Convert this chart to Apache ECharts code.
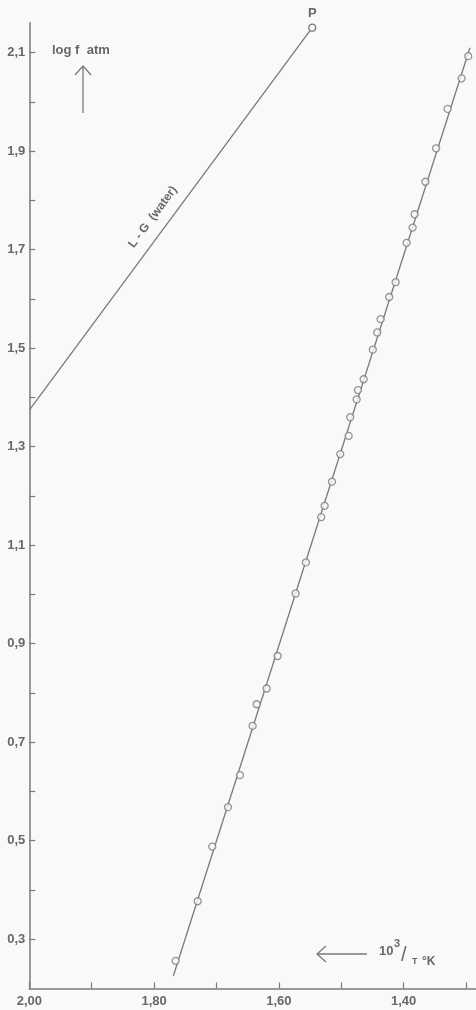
<!DOCTYPE html>
<html>
<head>
<meta charset="utf-8">
<script src="https://cdn.jsdelivr.net/npm/echarts@6/dist/echarts.min.js"></script>
<style>
  html, body { margin: 0; padding: 0; background: #f9f9f9; }
  #chart { width: 476px; height: 1010px; }
</style>
</head>
<body>
<div id="chart"></div>
<script>
// Measured points: x = 10^3/T (K^-1), y = log f (atm)
const measuredX = [1.7654, 1.7301, 1.7067, 1.6816, 1.6623, 1.6420, 1.6356, 1.6196, 1.6019, 1.5731,
                   1.5566, 1.5321, 1.5266, 1.5149, 1.5016, 1.4881, 1.4856, 1.4753, 1.4732, 1.4641,
                   1.4494, 1.4423, 1.4369, 1.4231, 1.4128, 1.3952, 1.3856, 1.3824, 1.3651, 1.3479,
                   1.3295, 1.3071, 1.2965];
const measuredY = [0.256, 0.377, 0.488, 0.568, 0.633, 0.733, 0.777, 0.809, 0.875, 1.002,
                   1.065, 1.157, 1.180, 1.229, 1.285, 1.322, 1.360, 1.396, 1.415, 1.437,
                   1.497, 1.532, 1.559, 1.604, 1.634, 1.714, 1.745, 1.772, 1.838, 1.906,
                   1.986, 2.048, 2.093];

// Straight line drawn through the measured points (end points)
const fitX = [1.7692, 1.2937];
const fitY = [0.2253, 2.1102];

// Liquid-gas curve of water, ending at point P
const lgX = [2.00, 1.5465];
const lgY = [1.3745, 2.1508];

// Tick positions and labels
const xTicks = [1.3, 1.4, 1.5, 1.6, 1.7, 1.8, 1.9, 2.0];
const xLabels = [1.4, 1.6, 1.8, 2.0];
const yTicks = [0.3, 0.4, 0.5, 0.6, 0.7, 0.8, 0.9, 1.0, 1.1, 1.2, 1.3, 1.4, 1.5, 1.6, 1.7, 1.8, 1.9, 2.0, 2.1];
const yLabels = [0.3, 0.5, 0.7, 0.9, 1.1, 1.3, 1.5, 1.7, 1.9, 2.1];

const INK = '#7a7a7a';
const TEXT = '#686868';
const BG = '#f9f9f9';
const FONT = '"Liberation Sans", Arial, sans-serif';

const zip = (xs, ys) => xs.map((x, i) => [x, ys[i]]);
const comma = (v, d) => v.toFixed(d).replace('.', ',');

const chart = echarts.init(document.getElementById('chart'), null, { renderer: 'canvas' });

const lgData = zip(lgX, lgY).map((p, i) => i === lgX.length - 1
  ? { value: p, symbol: 'circle', symbolSize: 7,
      label: { show: true, formatter: 'P', position: 'top', distance: 4,
               color: TEXT, fontFamily: FONT, fontWeight: 'bold', fontSize: 13 } }
  : { value: p, symbol: 'none' });

chart.setOption({
  backgroundColor: BG,
  animation: false,
  grid: { left: 29.3, right: 0, top: 22.7, bottom: 21.6 },
  xAxis: {
    type: 'value', inverse: true, min: 1.284, max: 2.0,
    axisLine: { show: true, lineStyle: { color: INK, width: 1.5 } },
    axisTick: { show: true, inside: true, length: 6, customValues: xTicks, lineStyle: { color: INK, width: 1.2 } },
    axisLabel: { customValues: xLabels, formatter: v => comma(v, 2), color: TEXT,
                 fontFamily: FONT, fontWeight: 'bold', fontSize: 13, margin: 7 },
    splitLine: { show: false }
  },
  yAxis: {
    type: 'value', min: 0.2, max: 2.161,
    axisLine: { show: true, lineStyle: { color: INK, width: 1.5 } },
    axisTick: { show: true, inside: true, length: 6, customValues: yTicks, lineStyle: { color: INK, width: 1.2 } },
    axisLabel: { customValues: yLabels, formatter: v => comma(v, 1), color: TEXT,
                 fontFamily: FONT, fontWeight: 'bold', fontSize: 13, margin: 4 },
    splitLine: { show: false }
  },
  series: [
    {
      name: 'fit', type: 'line', data: zip(fitX, fitY), symbol: 'none',
      lineStyle: { color: INK, width: 1.3 }, z: 2, silent: true
    },
    {
      name: 'L-G (water)', type: 'line', data: lgData,
      lineStyle: { color: INK, width: 1.3 },
      itemStyle: { color: BG, borderColor: INK, borderWidth: 1.3 }, z: 3, silent: true
    },
    {
      name: 'measured', type: 'scatter', data: zip(measuredX, measuredY),
      symbol: 'circle', symbolSize: 7,
      itemStyle: { color: BG, borderColor: INK, borderWidth: 1.3 }, z: 4, silent: true
    }
  ],
  graphic: [
    // y axis title with upward arrow
    { type: 'text', x: 52, y: 50, style: { text: 'log f  atm', fill: TEXT, font: 'bold 13px ' + FONT, verticalAlign: 'middle' } },
    { type: 'line', shape: { x1: 83, y1: 113, x2: 83, y2: 66 }, style: { stroke: INK, lineWidth: 1.3 } },
    { type: 'polyline', shape: { points: [[75, 75], [83, 66], [91, 75]] }, style: { stroke: INK, lineWidth: 1.3, fill: null } },
    // x axis title with leftward arrow
    { type: 'line', shape: { x1: 317, y1: 954, x2: 367, y2: 954 }, style: { stroke: INK, lineWidth: 1.3 } },
    { type: 'polyline', shape: { points: [[326, 946], [317, 954], [326, 962]] }, style: { stroke: INK, lineWidth: 1.3, fill: null } },
    { type: 'text', x: 379, y: 951, style: { text: '10', fill: TEXT, font: 'bold 13px ' + FONT, verticalAlign: 'middle' } },
    { type: 'text', x: 394, y: 944, style: { text: '3', fill: TEXT, font: 'bold 11px ' + FONT, verticalAlign: 'middle' } },
    { type: 'text', x: 401, y: 955, style: { text: '/', fill: TEXT, font: '20px ' + FONT, verticalAlign: 'middle' } },
    { type: 'text', x: 412, y: 962, style: { text: 'T', fill: TEXT, font: 'bold 9px ' + FONT, verticalAlign: 'middle' } },
    { type: 'text', x: 422, y: 962, style: { text: '°K', fill: TEXT, font: 'bold 12px ' + FONT, verticalAlign: 'middle' } },
    // curve label
    { type: 'text', x: 153, y: 217, rotation: 53.5 * Math.PI / 180,
      style: { text: 'L - G  (water)', fill: TEXT, font: 'bold 12px ' + FONT, align: 'center', verticalAlign: 'middle' } }
  ]
});
</script>
</body>
</html>
